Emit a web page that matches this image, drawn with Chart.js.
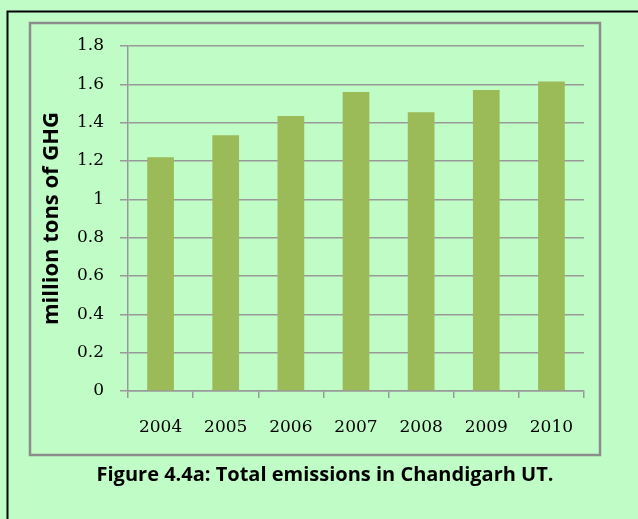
<!DOCTYPE html>
<html>
<head>
<meta charset="utf-8">
<title>Total emissions in Chandigarh UT</title>
<script src="https://cdn.jsdelivr.net/npm/chart.js@4.4.1/dist/chart.umd.min.js"></script>
<style>
  html, body { margin: 0; padding: 0; background: #bffcc6; }
  #wrap { width: 638px; height: 519px; }
</style>
</head>
<body>
<div id="wrap"><canvas id="chart" width="638" height="519"></canvas></div>
<script>
// Annual greenhouse-gas emissions, million tons
const years = ['2004', '2005', '2006', '2007', '2008', '2009', '2010'];
const emissions = [1.22, 1.335, 1.435, 1.56, 1.455, 1.57, 1.615];
const yTickLabels = ['0', '0.2', '0.4', '0.6', '0.8', '1', '1.2', '1.4', '1.6', '1.8'];
const yAxisTitle = 'million tons of GHG';
const caption = 'Figure 4.4a: Total emissions in Chandigarh UT.';

const PAGE_BG = '#bffcc6';
const BAR_FILL = '#9bbb59';
const GRID = '#999999';

// Page frame, chart box and caption
const framePlugin = {
  id: 'frame',
  beforeDraw(chart) {
    const ctx = chart.ctx;
    ctx.save();
    ctx.fillStyle = PAGE_BG;
    ctx.fillRect(0, 0, chart.width, chart.height);
    ctx.strokeStyle = '#000000';
    ctx.lineWidth = 2;
    ctx.strokeRect(7.5, 11.5, chart.width + 20, chart.height + 20);
    ctx.strokeStyle = '#8c8c8c';
    ctx.lineWidth = 2.5;
    ctx.strokeRect(30, 23, 570, 432);
    ctx.restore();
  },
  afterDraw(chart) {
    const ctx = chart.ctx;
    ctx.save();
    ctx.fillStyle = '#000000';
    ctx.font = 'bold 20px "Open Sans"';
    ctx.textAlign = 'center';
    ctx.textBaseline = 'middle';
    ctx.fillText(caption, 325, 475);
    ctx.restore();
  }
};

new Chart(document.getElementById('chart'), {
  type: 'bar',
  data: {
    labels: years,
    datasets: [{
      data: emissions,
      backgroundColor: BAR_FILL,
      borderWidth: 0,
      barPercentage: 0.41,
      categoryPercentage: 1.0
    }]
  },
  options: {
    responsive: false,
    animation: false,
    devicePixelRatio: 1,
    layout: { padding: { left: 35, right: 54, top: 46, bottom: 78 } },
    plugins: {
      legend: { display: false },
      tooltip: { enabled: false },
      title: { display: false }
    },
    scales: {
      x: {
        grid: {
          drawOnChartArea: false,
          drawTicks: true,
          tickLength: 7,
          color: GRID,
          lineWidth: 1.5
        },
        border: { display: true, color: GRID, width: 1.5 },
        ticks: {
          color: '#000000',
          padding: 19,
          font: { family: 'DejaVu Serif', size: 17 }
        },
        afterFit(scale) { scale.height = 50; }
      },
      y: {
        min: 0,
        max: 1.8,
        grid: {
          drawTicks: true,
          tickLength: 8,
          color: GRID,
          lineWidth: 1.5
        },
        border: { display: true, color: GRID, width: 1.5 },
        ticks: {
          stepSize: 0.2,
          color: '#000000',
          padding: 16,
          font: { family: 'DejaVu Serif', size: 17 },
          callback: (value, index) => yTickLabels[index]
        },
        title: {
          display: true,
          text: yAxisTitle,
          color: '#000000',
          font: { family: 'Open Sans', size: 22, weight: 'bold' },
          padding: { top: 4, bottom: 0 }
        },
        afterFit(scale) { scale.width = 93; }
      }
    }
  },
  plugins: [framePlugin]
});
</script>
</body>
</html>
